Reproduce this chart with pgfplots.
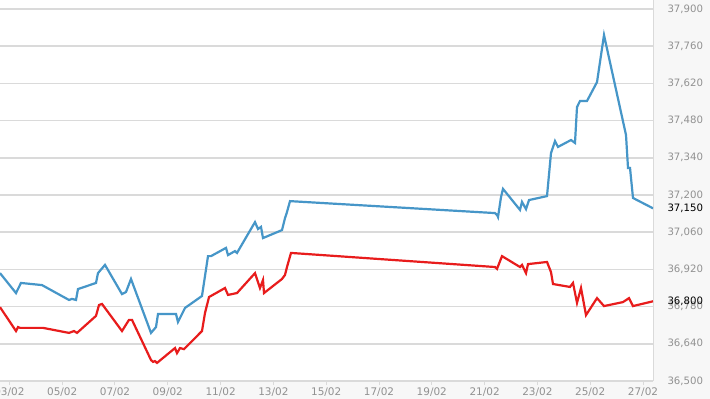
\documentclass[border=0pt]{standalone}
\usepackage{pgfplots}
\pgfplotsset{compat=1.18}
\usepackage{fontspec}
\setmainfont{DejaVu Sans}
\definecolor{bl}{RGB}{70,150,200}
\definecolor{rd}{RGB}{232,28,28}
\definecolor{gridc}{RGB}{218,218,218}
\definecolor{labc}{RGB}{145,145,145}
\definecolor{bgc}{RGB}{247,247,247}
\begin{document}
\begin{tikzpicture}
\fill[bgc] (0,-18bp) rectangle (710bp,381bp);
\begin{axis}[
  scale only axis, width=653bp, height=381bp,
  xmin=2.644, xmax=27.379, ymin=36500, ymax=37934,
  axis background/.style={fill=white},
  axis x line*=bottom, axis y line*=right,
  x axis line style={gridc, line width=2bp},
  y axis line style={gridc, line width=0.8bp},
  scaled y ticks=false,
  ytick={36500,36640,36780,36920,37060,37200,37340,37480,37620,37760,37900},
  xtick={3,5,7,9,11,13,15,17,19,21,23,25,27},
  xticklabels={03/02,05/02,07/02,09/02,11/02,13/02,15/02,17/02,19/02,21/02,23/02,25/02,27/02},
  ymajorgrids, major grid style={gridc, line width=1.5bp},
  tick align=outside, major tick length=4bp,
  xtick style={gridc, line width=1bp},
  ytick style={draw=none},
  /pgf/number format/.cd, fixed, precision=0, 1000 sep={,}, assume math mode=true,
  /pgfplots/.cd,
  xticklabel style={font=\fontsize{10.5}{12}\selectfont, text=labc, yshift=0.5bp},
  yticklabel style={font=\fontsize{10.2}{12}\selectfont, text=labc, anchor=west, xshift=7bp},
  extra y ticks={36800,37150},
  extra y tick style={grid=none, yticklabel style={text=black}},
]
\addplot[bl, line width=2.2bp] coordinates {
(2.644,36906) (3.250,36831) (3.439,36869) (4.235,36861) (5.258,36805) (5.371,36809)
(5.523,36805) (5.598,36846) (6.280,36869) (6.356,36906) (6.621,36937) (7.265,36827)
(7.417,36835) (7.606,36884) (8.364,36681) (8.553,36703) (8.629,36752) (9.311,36752)
(9.386,36722) (9.652,36775) (10.295,36820) (10.523,36970) (10.636,36970) (11.205,37001)
(11.280,36974) (11.545,36989) (11.621,36982) (12.303,37098) (12.417,37072) (12.530,37080)
(12.606,37038) (13.326,37068) (13.439,37113) (13.515,37136) (13.629,37177) (21.394,37132)
(21.470,37125) (21.508,37117) (21.621,37192) (21.697,37223) (22.341,37144) (22.417,37174)
(22.568,37147) (22.682,37181) (23.364,37196) (23.515,37358) (23.667,37403) (23.780,37381)
(24.273,37407) (24.424,37396) (24.500,37531) (24.614,37554) (24.879,37554) (25.258,37625)
(25.523,37802) (26.356,37426) (26.432,37302) (26.508,37302) (26.621,37189) (26.773,37181)
(27.379,37150)
};
\addplot[rd, line width=2.2bp] coordinates {
(2.644,36778) (3.250,36688) (3.326,36703) (3.402,36700) (4.273,36700) (5.258,36681)
(5.447,36688) (5.561,36681) (6.280,36745) (6.394,36786) (6.508,36790) (7.265,36688)
(7.530,36730) (7.644,36730) (8.364,36579) (8.439,36572) (8.515,36575) (8.591,36568)
(9.273,36624) (9.348,36605) (9.462,36624) (9.614,36620) (10.295,36688) (10.409,36756)
(10.561,36816) (11.167,36850) (11.280,36824) (11.621,36831) (12.303,36906) (12.492,36850)
(12.606,36880) (12.644,36831) (13.326,36884) (13.439,36899) (13.515,36929) (13.667,36982)
(21.394,36929) (21.470,36922) (21.659,36970) (22.341,36929) (22.417,36937) (22.568,36906)
(22.644,36940) (23.364,36948) (23.515,36910) (23.591,36865) (24.235,36854) (24.349,36869)
(24.500,36794) (24.652,36850) (24.841,36748) (25.258,36812) (25.523,36782) (26.242,36797)
(26.470,36812) (26.621,36782) (27.379,36800)
};
\end{axis}
\pgfresetboundingbox
\path (0,-18bp) rectangle (710bp,381bp);
\end{tikzpicture}
\end{document}
